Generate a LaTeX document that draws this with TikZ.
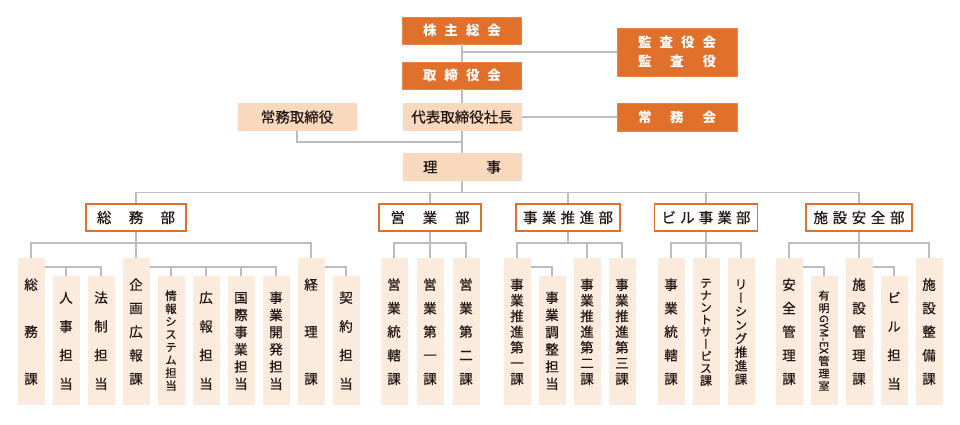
\documentclass[tikz,border=0pt]{standalone}
\usepackage{fontspec}
\setmainfont{Noto Sans CJK JP}
\newfontfamily\midfont[FakeBold=0.5]{Noto Sans CJK JP}
\newfontfamily\tatefont[RawFeature=+vert, FakeBold=0.6]{Noto Sans CJK JP}
\usepackage{graphicx}
\usepackage{tikz}
\usetikzlibrary{positioning,calc}

\definecolor{orgdark}{HTML}{E0702A}
\definecolor{peach}{HTML}{F9D9BE}
\definecolor{cream}{HTML}{FBEBDD}
\definecolor{linegray}{HTML}{BDBDBD}
\definecolor{inkgray}{HTML}{231815}

% text spread over a fixed width
\newcommand\spreadtext[2]{\hbox to #1{#2}}
% vertical text, one character under the other
\newcommand\tate[2]{\vbox to #1{\offinterlineskip\tatefont
  \foreach \ch [count=\k] in {#2}{\ifnum\k>1 \vfill\fi
    \hbox to 18pt{\hss\ch\hss\vrule height .88em depth .12em width 0pt}}}}

\begin{document}
\begin{tikzpicture}[
    x=1pt, y=-1pt,
    topbox/.style={
        fill=orgdark,
        draw=orgdark!85!white,
        text=white,
        font=\fontsize{13.5}{19}\selectfont\bfseries,
        minimum width=119pt,
        minimum height=27pt,
        inner sep=0pt
    },
    execbox/.style={
        fill=peach,
        text=inkgray,
        font=\fontsize{14.5}{17}\selectfont\midfont,
        minimum width=119pt,
        minimum height=28pt,
        inner sep=0pt
    },
    dept/.style={
        draw=orgdark,
        line width=1.8pt,
        fill=white,
        text=inkgray,
        font=\fontsize{14.5}{17}\selectfont\midfont,
        minimum height=27pt,
        inner sep=0pt
    },
    sec/.style={
        fill=cream,
        text=inkgray,
        font=\fontsize{13.5}{15}\selectfont,
        minimum width=27pt,
        minimum height=147pt,
        inner sep=0pt,
        anchor=north
    },
    secshort/.style={sec, minimum height=129pt},
    conn/.style={draw=linegray, line width=1.3pt}
]
\useasboundingbox (0,0) rectangle (960,424);

% top of the organisation
\node[topbox] (kabunushi) at (462,30.5) {\spreadtext{78pt}{株\hfill 主\hfill 総\hfill 会}};
\node[topbox] (torishimari) at (462,75.5) {\spreadtext{78pt}{取\hfill 締\hfill 役\hfill 会}};
\node[topbox, minimum width=120pt, minimum height=48pt, align=center] (kansa) at (677,52)
{\spreadtext{78pt}{監\hfill 査\hfill 役\hfill 会}\\\spreadtext{78pt}{監\hfill 査\hfill 役}};
\node[execbox] (jomu) at (297,117) {常務取締役};
\node[execbox] (daihyo) at (462,117) {代表取締役社長};
\node[topbox, minimum width=120pt, minimum height=28pt] (jomukai) at (677,117) {\spreadtext{78pt}{常\hfill 務\hfill 会}};
\node[execbox] (riji) at (462,167) {\spreadtext{78pt}{理\hfill 事}};

% departments
\node[dept, minimum width=100pt] (soumu) at (136,217.5) {\spreadtext{78pt}{総\hfill 務\hfill 部}};
\node[dept, minimum width=102pt] (eigyo) at (430,217.5) {\spreadtext{79pt}{営\hfill 業\hfill 部}};
\node[dept, minimum width=104pt] (suishin) at (568,217.5) {\spreadtext{90pt}{事\hfill 業\hfill 推\hfill 進\hfill 部}};
\node[dept, minimum width=103pt] (biru) at (706,217.5) {\spreadtext{89pt}{ビ\hfill ル\hfill 事\hfill 業\hfill 部}};
\node[dept, minimum width=106pt] (shisetsu) at (859,217.5) {\spreadtext{91pt}{施\hfill 設\hfill 安\hfill 全\hfill 部}};

% sections of 総務部
\node[sec] (sm1) at (31,258) {\tate{106pt}{総,務,課}};
\node[secshort] (sm2) at (66,276) {\tate{98pt}{人,事,担,当}};
\node[secshort] (sm3) at (101,276) {\tate{98pt}{法,制,担,当}};
\node[sec] (sm4) at (136,258) {\tate{106pt}{企,画,広,報,課}};
\node[secshort, font=\fontsize{11.5}{12}\selectfont] (sm5) at (171,276) {\tate{100pt}{情,報,シ,ス,テ,ム,担,当}};
\node[secshort] (sm6) at (206,276) {\tate{98pt}{広,報,担,当}};
\node[secshort] (sm7) at (241,276) {\tate{98pt}{国,際,事,業,担,当}};
\node[secshort] (sm8) at (276,276) {\tate{98pt}{事,業,開,発,担,当}};
\node[sec] (sm9) at (311,258) {\tate{106pt}{経,理,課}};
\node[secshort] (sm10) at (346,276) {\tate{98pt}{契,約,担,当}};

% sections of 営業部
\node[sec] (ei1) at (394,258) {\tate{106pt}{営,業,統,轄,課}};
\node[sec] (ei2) at (430,258) {\tate{106pt}{営,業,第,一,課}};
\node[sec] (ei3) at (466,258) {\tate{106pt}{営,業,第,二,課}};

% sections of 事業推進部
\node[sec] (su1) at (517,258) {\tate{106pt}{事,業,推,進,第,一,課}};
\node[secshort] (su2) at (552,276) {\tate{98pt}{事,業,調,整,担,当}};
\node[sec] (su3) at (587,258) {\tate{106pt}{事,業,推,進,第,二,課}};
\node[sec] (su4) at (622,258) {\tate{106pt}{事,業,推,進,第,三,課}};

% sections of ビル事業部
\node[sec] (bi1) at (671,258) {\tate{106pt}{事,業,統,轄,課}};
\node[sec, font=\fontsize{12}{13}\selectfont] (bi2) at (706,258) {\tate{108pt}{テ,ナ,ン,ト,サ,ー,ビ,ス,課}};
\node[sec, font=\fontsize{12.5}{13}\selectfont] (bi3) at (741,258) {\tate{106pt}{リ,ー,シ,ン,グ,推,進,課}};

% sections of 施設安全部
\node[sec] (sh1) at (789,258) {\tate{106pt}{安,全,管,理,課}};
\node[secshort, font=\fontsize{11}{12}\selectfont] (sh2) at (824,276) {\tate{100pt}{有,明,{\rotatebox[origin=c]{-90}{GYM-EX}},管,理,室}};
\node[sec] (sh3) at (859,258) {\tate{106pt}{施,設,管,理,課}};
\node[secshort] (sh4) at (894,276) {\tate{98pt}{ビ,ル,担,当}};
\node[sec] (sh5) at (929,258) {\tate{106pt}{施,設,整,備,課}};

% top connectors
\draw[conn] (kabunushi) -- (torishimari);
\draw[conn] (kansa.west) -- (kansa.west -| kabunushi.south);
\draw[conn] (torishimari) -- (daihyo);
\draw[conn] (daihyo) -- (jomukai);
\draw[conn] (daihyo) -- (riji);
\draw[conn] (jomu.south) |- ($(daihyo.south)!.5!(riji.north)$);

% main bus
\coordinate (bus) at ($(riji.south)+(0,11)$);
\draw[conn] (riji) -- (bus);
\draw[conn] (soumu.north) |- (bus) -| (shisetsu.north);
\draw[conn] (eigyo.north) -- (eigyo.north |- bus);
\draw[conn] (suishin.north) -- (suishin.north |- bus);
\draw[conn] (biru.north) -- (biru.north |- bus);

% 総務部
\coordinate (soumubus) at ($(soumu.south)+(0,11)$);
\draw[conn] (soumu) -- (sm4);
\draw[conn] (sm1.north) |- (soumubus) -| (sm9.north);
\coordinate (sm1t) at ($(sm1.north east)+(0,9)$);
\draw[conn] (sm1t) -| (sm3.north);
\draw[conn] (sm2.north) -- (sm2.north |- sm1t);
\coordinate (sm4t) at ($(sm4.north east)+(0,9)$);
\draw[conn] (sm4t) -| (sm8.north);
\draw[conn] (sm5.north) -- (sm5.north |- sm4t);
\draw[conn] (sm6.north) -- (sm6.north |- sm4t);
\draw[conn] (sm7.north) -- (sm7.north |- sm4t);
\coordinate (sm9t) at ($(sm9.north east)+(0,9)$);
\draw[conn] (sm9t) -| (sm10.north);

% 営業部
\coordinate (eigyobus) at ($(eigyo.south)+(0,11)$);
\draw[conn] (eigyo) -- (ei2);
\draw[conn] (ei1.north) |- (eigyobus) -| (ei3.north);

% 事業推進部
\coordinate (suishinbus) at ($(suishin.south)+(0,11)$);
\draw[conn] (suishin.south) -- (suishinbus);
\draw[conn] (su1.north) |- (suishinbus) -| (su4.north);
\draw[conn] (su3.north) -- (su3.north |- suishinbus);
\coordinate (su1t) at ($(su1.north east)+(0,9)$);
\draw[conn] (su1t) -| (su2.north);

% ビル事業部
\coordinate (birubus) at ($(biru.south)+(0,11)$);
\draw[conn] (biru) -- (bi2);
\draw[conn] (bi1.north) |- (birubus) -| (bi3.north);

% 施設安全部
\coordinate (shisetsubus) at ($(shisetsu.south)+(0,11)$);
\draw[conn] (shisetsu) -- (sh3);
\draw[conn] (sh1.north) |- (shisetsubus) -| (sh5.north);
\coordinate (sh1t) at ($(sh1.north east)+(0,9)$);
\draw[conn] (sh1t) -| (sh2.north);
\coordinate (sh3t) at ($(sh3.north east)+(0,9)$);
\draw[conn] (sh3t) -| (sh4.north);

\end{tikzpicture}
\end{document}
